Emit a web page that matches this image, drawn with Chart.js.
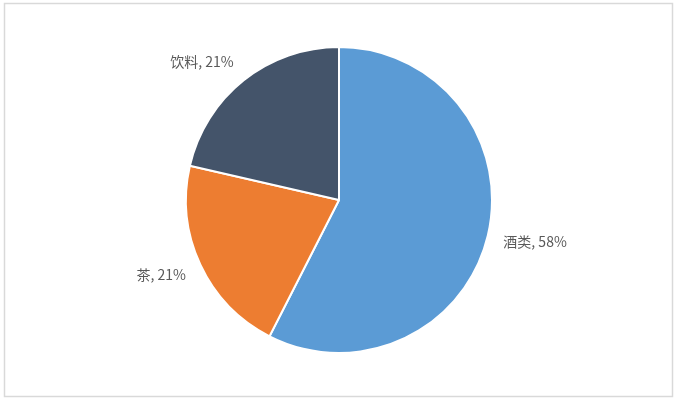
<!DOCTYPE html>
<html>
<head>
<meta charset="utf-8">
<script src="https://cdn.jsdelivr.net/npm/chart.js@4"></script>
<style>
  body { margin: 0; background: #fff; }
  #wrap { width: 676px; height: 401px; }
</style>
</head>
<body>
<div id="wrap"><canvas id="myChart" width="676" height="401"></canvas></div>
<script>
// chart data
const categories = ["酒类", "茶", "饮料"];
const values = [57.5, 21.1, 21.4];
const pctLabels = ["58%", "21%", "21%"];
const colors = ["#5B9BD5", "#ED7D31", "#44546A"];

// frame round the whole chart, like the excel chart area
const framePlugin = {
    id: 'frame',
    beforeDraw(chart) {
        let ctx = chart.ctx;
        ctx.save();
        ctx.fillStyle = '#fff';
        ctx.fillRect(0, 0, chart.width, chart.height);
        ctx.strokeStyle = '#d9d9d9';
        ctx.lineWidth = 1.5;
        ctx.strokeRect(4.5, 3.5, 668, 393);
        ctx.restore();
    }
};

// "name, xx%" labels outside the end of each slice
const labelPlugin = {
    id: 'outLabels',
    afterDatasetsDraw(chart) {
        let ctx = chart.ctx;
        let meta = chart.getDatasetMeta(0);
        ctx.save();
        ctx.font = '14px "Noto Sans CJK SC", "Noto Sans", sans-serif';
        ctx.fillStyle = '#595959';
        ctx.textAlign = 'center';
        ctx.textBaseline = 'middle';
        meta.data.forEach((arc, i) => {
            let p = arc.getProps(['x', 'y', 'startAngle', 'endAngle', 'outerRadius']);
            let mid = (p.startAngle + p.endAngle) / 2;
            let dx = Math.cos(mid), dy = Math.sin(mid);
            let txt = categories[i] + ', ' + pctLabels[i];
            let w = ctx.measureText(txt).width;
            let h = 16;
            let r = p.outerRadius + 16;
            let cx = p.x + dx * r + Math.sign(dx) * w / 2;
            let cy = p.y + dy * r + dy * h / 2;
            ctx.fillText(txt, cx, cy);
        });
        ctx.restore();
    }
};

new Chart("myChart", {
    type: "pie",
    data: {
        labels: categories,
        datasets: [{
            data: values,
            backgroundColor: colors,
            borderColor: '#fff',
            borderWidth: 2
        }]
    },
    options: {
        responsive: false,
        animation: false,
        layout: { padding: { top: 46, bottom: 47, left: 2, right: 0 } },
        plugins: {
            legend: { display: false },
            tooltip: { enabled: false },
            title: { display: false }
        }
    },
    plugins: [framePlugin, labelPlugin]
});
</script>
</body>
</html>
